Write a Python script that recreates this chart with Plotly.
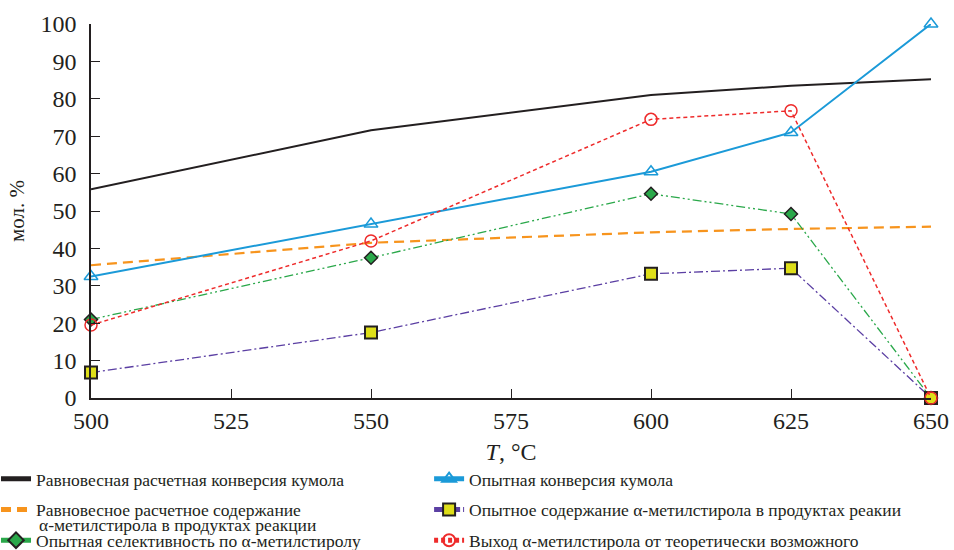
import plotly.graph_objects as go

T = [500, 550, 600, 625, 650]
eq_conv = [55.8, 71.6, 81.0, 83.5, 85.2]
exp_conv = [32.5, 46.5, 60.5, 71.0, 100.0]
eq_content = [35.5, 41.5, 44.3, 45.2, 45.8]
exp_content = [6.8, 17.5, 33.2, 34.7, 0.0]
selectivity = [21.0, 37.5, 54.6, 49.2, 0.0]
yield_ams = [19.5, 42.0, 74.5, 76.8, 0.0]
x_ticks = [500, 525, 550, 575, 600, 625, 650]

names = [
    "Равновесная расчетная конверсия кумола",
    "Опытная конверсия кумола",
    "Равновесное расчетное содержание",
    "Опытное содержание α-метилстирола в продуктах реакии",
    "Опытная селективность по α-метилстиролу",
    "Выход α-метилстирола от теоретически возможного",
]
name_cont = "α-метилстирола в продуктах реакции"

fig = go.Figure()
# left legend column
fig.add_trace(go.Scatter(x=T, y=eq_conv, name=names[0], mode="lines", legend="legend",
                         legendgroup="l1",
                         line=dict(color="#231f20", width=2), cliponaxis=False))
fig.add_trace(go.Scatter(x=T, y=eq_content, name=names[2], mode="lines", legend="legend",
                         legendgroup="l2",
                         line=dict(color="#f7941d", width=2.2, dash="10px,6px"), cliponaxis=False))
fig.add_trace(go.Scatter(x=T, y=selectivity, name=names[4], mode="lines+markers", legend="legend",
                         legendgroup="l3",
                         line=dict(color="#2aa84a", width=1.3, dash="9px,3px,2px,3px,2px,3px"),
                         marker=dict(symbol="diamond", size=10, color="#2aa84a", line=dict(color="#231f20", width=1.5)),
                         cliponaxis=False))
# right legend column
fig.add_trace(go.Scatter(x=T, y=exp_conv, name=names[1], mode="lines+markers", legend="legend2",
                         legendgroup="r1",
                         line=dict(color="#1b9ad8", width=2),
                         marker=dict(symbol="triangle-up-open", size=12, color="#1b9ad8", line=dict(width=1.5)),
                         cliponaxis=False))
fig.add_trace(go.Scatter(x=T, y=exp_content, name=names[3], mode="lines+markers", legend="legend2",
                         legendgroup="r2",
                         line=dict(color="#5b3fa3", width=1.3, dash="9px,3px,2px,3px"),
                         marker=dict(symbol="square", size=12, color="#dede1a", line=dict(color="#231f20", width=2)),
                         cliponaxis=False))
fig.add_trace(go.Scatter(x=T, y=yield_ams, name=names[5], mode="lines+markers", legend="legend2",
                         legendgroup="r3",
                         line=dict(color="#ee2b2b", width=1.5, dash="4px,3px"),
                         marker=dict(symbol="circle-open", size=12, color="#ee2b2b", line=dict(width=1.5)),
                         cliponaxis=False))

font = "Liberation Serif"
ink = "#231f20"
LFS = 17.5
legend_common = dict(orientation="v", yanchor="top", font=dict(size=LFS, family=font, color=ink),
                     bgcolor="rgba(0,0,0,0)", itemwidth=30, itemsizing="constant", tracegroupgap=5)
fig.update_layout(
    width=954, height=550,
    margin=dict(l=91, r=23, t=24, b=152, autoexpand=False),
    plot_bgcolor="white", paper_bgcolor="white",
    font=dict(family=font, color=ink),
    showlegend=True,
    legend=dict(x=-0.1131, xanchor="left", y=-0.168, **legend_common),
    legend2=dict(x=0.4025, xanchor="left", y=-0.168, **legend_common),
    xaxis=dict(range=[500, 650], tickvals=x_ticks,
               showgrid=False, zeroline=False, showline=True, linecolor=ink, linewidth=1.5,
               ticks="inside", ticklen=9, tickcolor=ink, tickwidth=1.2, ticklabelstandoff=0,
               tickfont=dict(size=24, family=font, color=ink),
               title=dict(text="<i>T</i>, °C", font=dict(size=24, family=font, color=ink), standoff=11)),
    yaxis=dict(range=[0, 100], dtick=10,
               showgrid=False, zeroline=False, showline=True, linecolor=ink, linewidth=1.5,
               ticks="inside", ticklen=9, tickcolor=ink, tickwidth=1.2, ticklabelstandoff=8,
               tickfont=dict(size=24, family=font, color=ink),
               title=dict(text="мол. %", font=dict(size=21, family=font, color=ink), standoff=10)),
    annotations=[dict(text=name_cont, xref="paper", yref="paper", x=-0.0643, y=-0.3395,
                      xanchor="left", yanchor="middle", showarrow=False,
                      font=dict(size=LFS, family=font, color=ink))],
)

fig.write_html("out.html", config={"displayModeBar": False},
               post_script="document.body.style.margin='0';document.body.style.overflow='hidden';")
